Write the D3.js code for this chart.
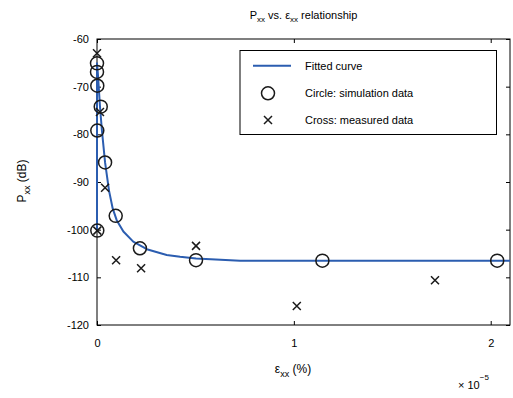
<!DOCTYPE html>
<html><head><meta charset="utf-8">
<script src="https://cdn.jsdelivr.net/npm/d3@7"></script>
<style>body{margin:0;background:#fff}text{font-family:"Liberation Sans",Arial,sans-serif;}</style>
</head><body>
<svg id="c" width="513" height="398"></svg>
<script>
// ---- data ----
const xTicks = [0, 1, 2];
const xTickLabels = ["0", "1", "2"];
const yTicks = [-120, -110, -100, -90, -80, -70, -60];
const yTickLabels = ["-120", "-110", "-100", "-90", "-80", "-70", "-60"];
const xDomain = [0, 2.098];
const yDomain = [-120, -60];

const fitX = [0, 0, 0.005, 0.015, 0.025, 0.041, 0.061, 0.080, 0.100, 0.134, 0.184, 0.253, 0.354, 0.422, 0.503, 0.727, 2.098];
const fitY = [-100.2, -65.1, -67.6, -74.1, -79.2, -85.9, -91.8, -95.6, -98.0, -100.4, -102.5, -104.1, -105.3, -105.7, -106.05, -106.5, -106.5];

const circX = [0, 0, 0.0015, 0.019, 0.0015, 0.041, 0.095, 0.0015, 0.218, 0.503, 1.145, 2.033];
const circY = [-65.1, -66.9, -69.8, -74.2, -79.2, -85.9, -97.1, -100.2, -103.9, -106.4, -106.5, -106.5];

const crossX = [0, 0.015, 0.041, 0.0015, 0.097, 0.224, 0.503, 1.015, 1.717];
const crossY = [-63.0, -75.3, -91.2, -100.2, -106.4, -108.1, -103.4, -116.0, -110.6];

const legendLabels = ["Fitted curve", "Circle: simulation data", "Cross: measured data"];

// ---- layout ----
const L = 97, R = 510, T = 39, B = 325;
const svg = d3.select("#c");
const x = d3.scaleLinear().domain(xDomain).range([L, R]);
const y = d3.scaleLinear().domain(yDomain).range([B, T]);
const fs = 11;

// frame
svg.append("rect").attr("x", L).attr("y", T).attr("width", R - L).attr("height", B - T)
  .attr("fill", "none").attr("stroke", "#000").attr("stroke-width", 1);

// axes
const ax = svg.append("g").attr("transform", `translate(0,${B})`)
  .call(d3.axisBottom(x).tickValues(xTicks).tickFormat((d, i) => xTickLabels[i]).tickSizeInner(-4).tickSizeOuter(0).tickPadding(14));
const axTop = svg.append("g").attr("transform", `translate(0,${T})`)
  .call(d3.axisTop(x).tickValues(xTicks).tickFormat("").tickSizeInner(-4).tickSizeOuter(0));
const ay = svg.append("g").attr("transform", `translate(${L},0)`)
  .call(d3.axisLeft(y).tickValues(yTicks).tickFormat((d, i) => yTickLabels[i]).tickSizeInner(-4).tickSizeOuter(0).tickPadding(8));
const ayR = svg.append("g").attr("transform", `translate(${R},0)`)
  .call(d3.axisRight(y).tickValues(yTicks).tickFormat("").tickSizeInner(-4).tickSizeOuter(0));
[ax, axTop, ay, ayR].forEach(g => {
  g.select(".domain").remove();
  g.selectAll(".tick line").attr("stroke", "#000");
  g.selectAll("text").attr("font-size", fs).attr("fill", "#000").style("font-family", '"Liberation Sans",Arial,sans-serif');
});

// fit line
const pts = fitX.map((v, i) => [v, fitY[i]]);
svg.append("path").datum(pts)
  .attr("d", d3.line().x(d => x(d[0])).y(d => y(d[1])))
  .attr("fill", "none").attr("stroke", "#2B5DB0").attr("stroke-width", 2).attr("stroke-linejoin", "round");

// circles
svg.append("g").selectAll("circle").data(circX.map((v, i) => [v, circY[i]])).join("circle")
  .attr("cx", d => x(d[0])).attr("cy", d => y(d[1])).attr("r", 6.5)
  .attr("fill", "none").attr("stroke", "#1a1a1a").attr("stroke-width", 1.5);

// crosses
const cs = 4;
const crossPath = (cx, cy) => `M${cx - cs},${cy - cs}L${cx + cs},${cy + cs}M${cx - cs},${cy + cs}L${cx + cs},${cy - cs}`;
svg.append("g").selectAll("path").data(crossX.map((v, i) => [v, crossY[i]])).join("path")
  .attr("d", d => crossPath(x(d[0]), y(d[1])))
  .attr("stroke", "#1a1a1a").attr("stroke-width", 1.5).attr("fill", "none");

// legend
const lg = svg.append("g");
lg.append("rect").attr("x", 240).attr("y", 50.5).attr("width", 256.5).attr("height", 84)
  .attr("fill", "#fff").attr("stroke", "#000").attr("stroke-width", 1);
const rowsY = [65.7, 93.3, 120];
lg.append("line").attr("x1", 253).attr("x2", 291).attr("y1", rowsY[0]).attr("y2", rowsY[0])
  .attr("stroke", "#2B5DB0").attr("stroke-width", 2);
lg.append("circle").attr("cx", 268).attr("cy", rowsY[1]).attr("r", 6.5)
  .attr("fill", "none").attr("stroke", "#1a1a1a").attr("stroke-width", 1.5);
lg.append("path").attr("d", crossPath(268, rowsY[2])).attr("stroke", "#1a1a1a").attr("stroke-width", 1.5);
lg.selectAll("text.l").data(legendLabels).join("text").attr("class", "l")
  .attr("x", 305).attr("y", (d, i) => rowsY[i]).attr("dy", "0.35em")
  .attr("font-size", fs).text(d => d);

// title
const tt = svg.append("text").attr("x", (L + R) / 2).attr("y", 19).attr("text-anchor", "middle")
  .attr("font-size", fs);
tt.append("tspan").text("P");
tt.append("tspan").attr("font-size", 8).attr("dy", 3).text("xx");
tt.append("tspan").attr("dy", -3).text(" vs. ε");
tt.append("tspan").attr("font-size", 8).attr("dy", 3).text("xx");
tt.append("tspan").attr("dy", -3).text(" relationship");

// x label
const xl = svg.append("text").attr("x", 293).attr("y", 373).attr("text-anchor", "middle").attr("font-size", 12);
xl.append("tspan").text("ε");
xl.append("tspan").attr("font-size", 9).attr("dy", 4).text("xx");
xl.append("tspan").attr("dy", -4).text(" (%)");

// exponent multiplier
const mx = svg.append("text").attr("x", 458).attr("y", 389).attr("font-size", fs);
mx.append("tspan").text("× 10");
mx.append("tspan").attr("font-size", 8).attr("dy", -9).text("−5");

// y label
const yl = svg.append("text").attr("transform", "translate(26,181) rotate(-90)")
  .attr("text-anchor", "middle").attr("font-size", 12);
yl.append("tspan").text("P");
yl.append("tspan").attr("font-size", 9).attr("dy", 4).text("xx");
yl.append("tspan").attr("dy", -4).text(" (dB)");
</script>
</body></html>
